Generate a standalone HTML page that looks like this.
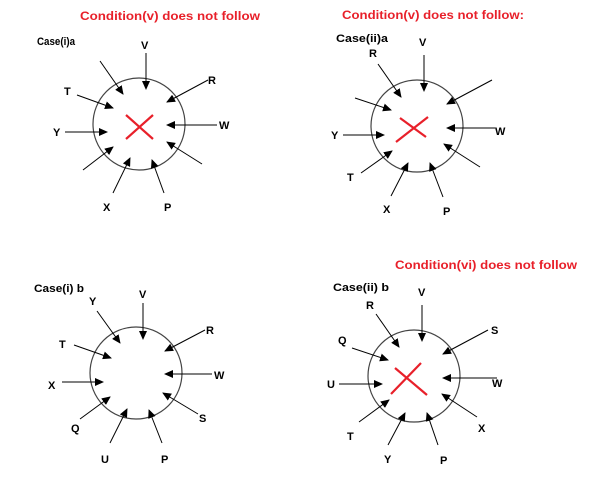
<!DOCTYPE html>
<html><head><meta charset="utf-8"><style>
html,body{margin:0;padding:0;background:#fff;}
svg{display:block;}
text{font-family:"Liberation Sans",sans-serif;font-weight:bold;}
.l{font-size:11px;fill:#000;}
.t{font-size:12px;fill:#e8202a;}
.c{font-size:11px;fill:#000;}
line.a{stroke:#000;stroke-width:1;marker-end:url(#ah);}
circle{fill:none;stroke:#444;stroke-width:1.2;}
line.x{stroke:#e8202a;stroke-width:2.2;}
</style></head><body>
<svg width="603" height="495" viewBox="0 0 603 495" xmlns="http://www.w3.org/2000/svg">
<defs><marker id="ah" markerWidth="9" markerHeight="8" refX="8" refY="4" orient="auto" markerUnits="userSpaceOnUse"><path d="M0,0 L9,4 L0,8 z" fill="#000"/></marker></defs>

<!-- Diagram 1 -->
<text class="t" x="80" y="20" textLength="180" lengthAdjust="spacingAndGlyphs">Condition(v) does not follow</text>
<text class="c" x="37" y="45" textLength="38" lengthAdjust="spacingAndGlyphs">Case(i)a</text>
<circle cx="139" cy="124" r="46"/>
<line class="a" x1="146" y1="53" x2="146" y2="89"/>
<line class="a" x1="100" y1="61" x2="123" y2="94"/>
<line class="a" x1="77" y1="95" x2="113" y2="108"/>
<line class="a" x1="208" y1="80" x2="167" y2="102"/>
<line class="a" x1="217" y1="125" x2="167" y2="125"/>
<line class="a" x1="65" y1="132" x2="107" y2="132"/>
<line class="a" x1="83" y1="170" x2="113" y2="147"/>
<line class="a" x1="113" y1="193" x2="130" y2="158"/>
<line class="a" x1="164" y1="193" x2="152" y2="160"/>
<line class="a" x1="202" y1="164" x2="167" y2="142"/>
<line class="x" x1="126" y1="115" x2="153" y2="139"/>
<line class="x" x1="126" y1="139" x2="153" y2="115"/>
<text class="l" x="141" y="49">V</text>
<text class="l" x="64" y="95">T</text>
<text class="l" x="208" y="84">R</text>
<text class="l" x="219" y="129">W</text>
<text class="l" x="53" y="136">Y</text>
<text class="l" x="103" y="211">X</text>
<text class="l" x="164" y="211">P</text>

<!-- Diagram 2 -->
<text class="t" x="342" y="19" textLength="182" lengthAdjust="spacingAndGlyphs">Condition(v) does not follow:</text>
<text class="c" x="336" y="42" textLength="52" lengthAdjust="spacingAndGlyphs">Case(ii)a</text>
<circle cx="417" cy="126" r="46"/>
<line class="a" x1="378" y1="64" x2="401" y2="97"/>
<line class="a" x1="424" y1="55" x2="424" y2="91"/>
<line class="a" x1="355" y1="98" x2="391" y2="110"/>
<line class="a" x1="492" y1="80" x2="447" y2="104"/>
<line class="a" x1="343" y1="135" x2="384" y2="135"/>
<line class="a" x1="495" y1="128" x2="447" y2="128"/>
<line class="a" x1="361" y1="173" x2="392" y2="151"/>
<line class="a" x1="391" y1="196" x2="408" y2="163"/>
<line class="a" x1="443" y1="197" x2="430" y2="163"/>
<line class="a" x1="480" y1="167" x2="444" y2="144"/>
<line class="x" x1="400" y1="118" x2="426" y2="137"/>
<line class="x" x1="396" y1="142" x2="428" y2="117"/>
<text class="l" x="369" y="57">R</text>
<text class="l" x="419" y="46">V</text>
<text class="l" x="331" y="139">Y</text>
<text class="l" x="495" y="135">W</text>
<text class="l" x="347" y="181">T</text>
<text class="l" x="383" y="213">X</text>
<text class="l" x="443" y="215">P</text>

<!-- Diagram 3 -->
<text class="c" x="34" y="292" textLength="50" lengthAdjust="spacingAndGlyphs">Case(i) b</text>
<circle cx="136" cy="373" r="46"/>
<line class="a" x1="97" y1="311" x2="120" y2="343"/>
<line class="a" x1="143" y1="303" x2="143" y2="339"/>
<line class="a" x1="74" y1="345" x2="111" y2="358"/>
<line class="a" x1="205" y1="330" x2="165" y2="351"/>
<line class="a" x1="62" y1="382" x2="103" y2="382"/>
<line class="a" x1="212" y1="374" x2="165" y2="374"/>
<line class="a" x1="80" y1="419" x2="110" y2="397"/>
<line class="a" x1="110" y1="443" x2="127" y2="409"/>
<line class="a" x1="162" y1="443" x2="149" y2="410"/>
<line class="a" x1="198" y1="414" x2="163" y2="393"/>
<text class="l" x="89" y="305">Y</text>
<text class="l" x="139" y="298">V</text>
<text class="l" x="59" y="348">T</text>
<text class="l" x="206" y="334">R</text>
<text class="l" x="48" y="389">X</text>
<text class="l" x="214" y="379">W</text>
<text class="l" x="71" y="432">Q</text>
<text class="l" x="101" y="463">U</text>
<text class="l" x="161" y="463">P</text>
<text class="l" x="199" y="422">S</text>

<!-- Diagram 4 -->
<text class="t" x="395" y="269" textLength="182" lengthAdjust="spacingAndGlyphs">Condition(vi) does not follow</text>
<text class="c" x="333" y="291" textLength="56" lengthAdjust="spacingAndGlyphs">Case(ii) b</text>
<circle cx="414" cy="376" r="46"/>
<line class="a" x1="376" y1="314" x2="399" y2="347"/>
<line class="a" x1="422" y1="305" x2="422" y2="341"/>
<line class="a" x1="352" y1="348" x2="388" y2="360"/>
<line class="a" x1="488" y1="330" x2="443" y2="354"/>
<line class="a" x1="339" y1="384" x2="382" y2="384"/>
<line class="a" x1="497" y1="378" x2="443" y2="378"/>
<line class="a" x1="359" y1="422" x2="389" y2="400"/>
<line class="a" x1="388" y1="445" x2="405" y2="413"/>
<line class="a" x1="438" y1="445" x2="427" y2="413"/>
<line class="a" x1="477" y1="417" x2="442" y2="394"/>
<line class="x" x1="395" y1="368" x2="427" y2="395"/>
<line class="x" x1="391" y1="394" x2="421" y2="363"/>
<text class="l" x="366" y="309">R</text>
<text class="l" x="418" y="296">V</text>
<text class="l" x="338" y="344">Q</text>
<text class="l" x="491" y="334">S</text>
<text class="l" x="327" y="388">U</text>
<text class="l" x="492" y="387">W</text>
<text class="l" x="347" y="440">T</text>
<text class="l" x="384" y="463">Y</text>
<text class="l" x="440" y="464">P</text>
<text class="l" x="478" y="432">X</text>
</svg>
</body></html>
